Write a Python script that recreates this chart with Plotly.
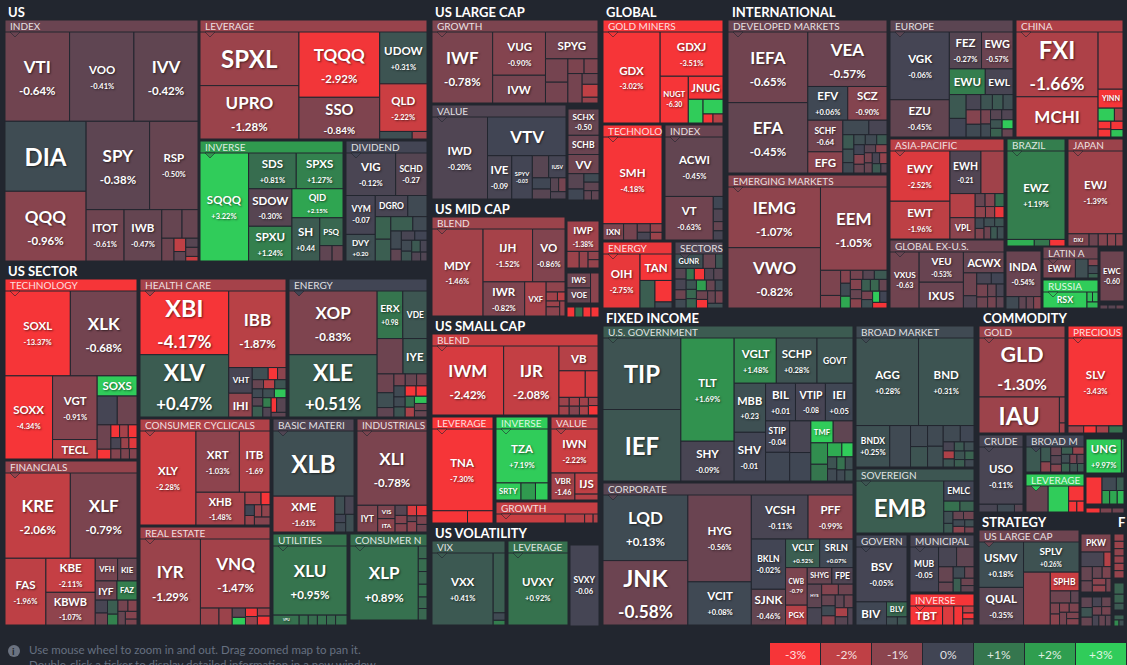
import plotly.graph_objects as go

W, H = 1127, 665
BG = "#22262f"
legend_labels = ["-3%", "-2%", "-1%", "0%", "+1%", "+2%", "+3%"]
legend_colors = ["#f63538", "#bf4045", "#8b444e", "#414554", "#35764e", "#2f9e4f", "#30cc5a"]
scale_values = [-3, -2, -1, 0, 1, 2, 3]

# ---- data: t_ = visible tickers ("" or missing = cell without a label), c_ = % change, a_ = size
t_index = ["VTI", "VOO", "IVV", "DIA", "QQQ", "SPY", "RSP", "ITOT", "IWB"]
c_index = [-0.64, -0.41, -0.42, 0.15, -0.96, -0.38, -0.50, -0.61, -0.47, -0.5, -0.5, -0.6, -2.0, -0.4, -0.3, -0.6, -2.2]
a_index = [518, 516, 514, 510, 508, 504, 384, 175, 174, 52, 41, 25, 14, 10, 10, 10, 5]
t_lev = ["SPXL", "UPRO", "TQQQ", "SSO", "UDOW", "QLD"]
c_lev = [-1.3, -1.28, -2.92, -0.84, 0.31, -2.22, 0.2, -1.4]
a_lev = [476, 474, 473, 302, 220, 202, 22, 10]
t_inv = ["SQQQ", "SDS", "SPXS", "SDOW", "SPXU", "QID", "SH", "PSQ"]
c_inv = [3.22, 0.81, 1.27, -0.30, 1.24, 2.15, 0.44, 0.7, -0.4, -0.5]
a_inv = [471, 153, 150, 146, 135, 133, 108, 58, 17, 15]
t_div = ["VIG", "SCHD", "VYM", "DVY", "DGRO"]
c_div = [-0.12, -0.27, -0.07, 0.20, -0.1, 0.1, 0.6, 0.5, 0.5, 0.1, 0.1, -0.4, -0.1, 0.0, 0.1, 0.3, 0.4, -0.1, -0.2, -0.2]
a_div = [187, 118, 101, 69, 61, 36, 31, 30, 28, 18, 17, 11, 11, 10, 10, 9, 9, 7, 7, 5]
t_tech = ["SOXL", "XLK", "SOXX", "VGT", "TECL", "SOXS"]
c_tech = [-13.37, -0.68, -4.34, -0.91, -2.0, 3.0, -0.05, -0.6, -0.6, -4, -3, -1.5, -3.2, -0.1, -0.9, -1.3, -2.6, -0.8, -0.9]
a_tech = [498, 508, 355, 255, 78, 72, 52, 51, 30, 12, 10, 10, 10, 10, 9, 8, 8, 8, 7]
t_fin = ["KRE", "XLF", "FAS", "KBE", "KBWB", "VFH", "KIE", "IYF", "FAZ"]
c_fin = [-2.06, -0.79, -1.96, -2.11, -1.07, -0.7, -0.5, -0.6, 1.2, -0.1, -0.6, 0.5, 1.3, -0.7, -0.9, -0.5, -0.9, -0.8]
a_fin = [494, 504, 242, 149, 143, 45, 39, 37, 34, 14, 13, 13, 10, 10, 9, 9, 8, 6]
t_hc = ["XBI", "XLV", "IBB", "VHT", "IHI"]
c_hc = [-4.17, 0.47, -1.87, -0.1, -1.1, 0.2, -3.5, -1.0, -0.5, -1.9, 0.3, 0.1, -0.3, 0.5, 0.2, 2.9, 1.2, -0.2, -4.0, -0.3, -0.4]
a_hc = [495, 484, 384, 53, 49, 17, 10, 9, 9, 9, 9, 8, 8, 10, 9, 9, 7, 7, 7, 12, 6]
t_en = ["XOP", "XLE", "ERX", "VDE", "", "IYE"]
c_en = [-0.83, 0.51, 0.98, 0.35, -0.6, 0.4, -0.6, 0.2, -0.4, -0.7, -0.5, -0.7, 0.1, 0.1, 0.3, -3.5, -3.5, 0.8, -1.6, 2.8, -0.6, -0.5]
a_en = [497, 486, 108, 102, 81, 75, 28, 22, 14, 12, 12, 11, 11, 10, 10, 10, 10, 9, 8, 8, 8, 7]
t_cc = ["XLY", "XRT", "ITB", "XHB"]
c_cc = [-2.28, -1.03, -1.69, -1.48, -1.5, -3.5, 0, -1.2, -1.2, -1.1, -0.9]
a_cc = [469, 237, 167, 143, 18, 10, 9, 8, 8, 9, 11]
t_re = ["IYR", "VNQ"]
c_re = [-1.29, -1.47, -1.3, -1.3, -0.4, 3, -3.5, -1.2, -1.4, -3.5]
a_re = [464, 429, 28, 20, 11, 9, 9, 9, 9, 10]
t_bm = ["XLB", "XME"]
c_bm = [0.2, -1.61, 0.2, -0.1, 0.0, 0.1, 0.2]
a_bm = [471, 198, 16, 15, 8, 9, 13]
t_ind = ["XLI", "IYT", "VIS", "ITA"]
c_ind = [-0.78, -0.8, -0.8, -1.0, -0.3, -0.9, -0.9, -2.5, -2.8, -0.5, -1.0, -0.8, -0.6]
a_ind = [470, 50, 21, 21, 11, 9, 9, 9, 10, 5, 9, 8, 7]
t_ut = ["XLU", "VPU"]
c_ut = [0.95, 0.9, 0.9, 0.8, 0.9, 0.8, 0.9]
a_ut = [455, 23, 8, 8, 8, 8, 10]
t_cn = ["XLP"]
c_cn = [0.89, 0.7, 0.8, 0.7, 0.9, 0.7, 0.7]
a_cn = [455, 10, 10, 10, 10, 9, 9]
t_gr = ["IWF", "VUG", "IVW", "SPYG"]
c_gr = [-0.78, -0.90, -0.7, -0.7, -0.7, -0.7, -0.8, -0.8, -0.7, -0.6, -2.0, -1.2]
a_gr = [379, 201, 129, 124, 46, 41, 21, 18, 37, 15, 18, 8]
t_val = ["IWD", "VTV", "IVE", "SPYV", "", "IUSV"]
c_val = [-0.20, 0.0, -0.09, -0.03, -0.3, -0.05, 0.05, -0.3, -0.3, -0.7, -0.2]
a_val = [403, 269, 93, 79, 32, 34, 18, 16, 10, 9, 10]
t_ls = ["SCHX", "SCHB", "VV"]
c_ls = [-0.50, -0.55, -0.6, -0.3, 0.05, 0.1, -0.4, -0.4, -0.4]
a_ls = [70, 51, 51, 21, 15, 11, 11, 6, 6]
t_mb = ["MDY", "IJH", "VO", "IWR", "VXF"]
c_mb = [-1.46, -1.52, -0.86, -0.82, -1.5, -1.1, -1.4, -1.9, -1.3, -1.0, -1.2]
a_mb = [394, 232, 152, 126, 65, 17, 9, 6, 7, 11, 7]
t_iwp = ["IWP"]
c_iwp = [-1.38, -1.3, -1.2, -1.1, -1.2]
a_iwp = [86, 18, 13, 8, 8]
t_iws = ["IWS", "VOE"]
c_iws = [-0.6, -0.5, -1.0]
a_iws = [32, 32, 23]
t_mred = []
c_mred = [-3.5, 0.8, -3.0, -3.5]
a_mred = [10, 10, 10, 10]
t_gold = ["GDX", "GDXJ", "NUGT", "JNUG"]
c_gold = [-3.02, -3.51, -6.30, -6.5, 3.2, 3.3, -3.5, -1.8]
a_gold = [462, 247, 117, 71, 31, 26, 8, 8]
t_gt = ["SMH", "IXN"]
c_gt = [-4.18, -0.8, -0.7, -0.6, -0.1, -1.2, -1.3]
a_gt = [460, 30, 20, 10, 9, 9, 8]
t_gi = ["ACWI", "VT"]
c_gi = [-0.45, -0.63, 0.05, -0.2, -0.5, -0.1]
a_gi = [310, 189, 11, 11, 8, 8]
t_ge = ["OIH", "TAN"]
c_ge = [-2.75, -4, 0.5, -4, 0.1]
a_ge = [175, 74, 36, 32, 9]
t_gs = ["GUNR"]
c_gs = [0.2, -0.5, 0.3, -0.3, -0.1, -0.6, 0.1, 1.0, -3.5, -0.2, -0.3, 0.3, 0.7, 0.6, 2.0, -0.5, 0.1, -0.6, -3.0, -0.5, -0.7, 0.2]
a_gs = [34, 15, 9, 10, 10, 9, 8, 8, 10, 9, 9, 8, 8, 8, 9, 8, 7, 8, 8, 8, 8, 6]
t_gov = ["TIP", "IEF", "TLT", "SHY", "VGLT", "SCHP", "GOVT", "MBB", "SHV", "BIL", "VTIP", "IEI", "STIP", "", "", "", "TMF"]
c_gov = [0.28, 0.35, 1.69, -0.09, 1.48, 0.28, 0.31, 0.23, -0.01, 0.01, -0.08, 0.05, -0.04, 0.05, -0.1, 0.05, 3.2, -0.4, 1.6, 1.0, 2.3, 3.1, 0.3, 0.1, 0.9, 0.2, 0.1, 0.3]
a_gov = [499, 499, 493, 190, 171, 165, 146, 138, 137, 101, 101, 93, 68, 62, 60, 54, 44, 39, 32, 25, 18, 14, 10, 10, 10, 9, 8, 8]
t_corp = ["LQD", "JNK", "HYG", "VCIT", "VCSH", "PFF", "BKLN", "SJNK", "VCLT", "SRLN", "CWB", "PGX", "SHYG", "FPE", "HYS"]
c_corp = [0.13, -0.58, -0.56, 0.08, -0.11, -0.99, -0.02, -0.46, 0.52, 0.07, -0.79, -1.8, -0.5, -0.2, -0.4, -0.1, -0.9, -0.6, -0.5, 0.1, -0.9, -0.4, -0.6, -1.6, -0.3, -0.2]
a_corp = [492, 483, 487, 242, 221, 175, 152, 108, 86, 84, 72, 38, 36, 31, 30, 22, 16, 14, 13, 12, 11, 10, 10, 10, 9, 8]
t_bm2 = ["AGG", "BND", "BNDX"]
c_bm2 = [0.28, 0.31, 0.25, 0.1, 0.1, 0.3, 0.1, 0.2, 0.1, 0.05, -0.1, -1.7, 0.3, 0.4, 0.2, 0.3, 0.5, 0.6, 0.1]
a_bm2 = [489, 434, 125, 77, 32, 31, 29, 29, 25, 20, 9, 8, 8, 8, 8, 8, 7, 7, 6]
t_sov = ["EMB", "EMLC"]
c_sov = [0.5, 0.0, 0.9, 0.6, 0.2, 0.4, -0.5, -0.6, 0.1, -1.0, 0.2, -0.7]
a_sov = [413, 55, 15, 13, 10, 8, 8, 8, 7, 7, 6, 5]
t_govn = ["BSV", "BIV", "BLV"]
c_govn = [-0.05, 0.05, 0.7, 0.2, 0.3]
a_govn = [254, 64, 28, 8, 7]
t_muni = ["MUB"]
c_muni = [-0.05, -0.1, -0.4, -0.5, -0.5, 0.1, -0.5, 0.5, -0.6, -0.4]
a_muni = [108, 30, 29, 19, 12, 11, 9, 9, 8, 7]
t_binv = ["TBT"]
c_binv = [-3.5, -2.5, -3.3, -2.0, -3.0, -1.5]
a_binv = [55, 19, 15, 7, 6, 6]
t_gld = ["GLD", "IAU"]
c_gld = [-1.30, -1.32, -1.2, -1.4]
a_gld = [454, 259, 13, 5]
t_prec = ["SLV"]
c_prec = [-3.43, -1.3, -3.5, -1.5, 0.9]
a_prec = [432, 10, 8, 8, 9]
t_cru = ["USO"]
c_cru = [-0.11, -0.1, 0.1, -0.3]
a_cru = [229, 13, 12, 6]
t_bmc = []
c_bmc = [0.4, 0.4, -1.0, -0.5, -0.3, -0.9, 0.5, -1.2, 0.2, 0.6, -0.7, -0.4, 0.3, 0.5]
a_bmc = [40, 16, 11, 10, 10, 9, 9, 9, 8, 8, 7, 7, 7, 6]
t_clev = []
c_clev = [-0.5, 3.0, -3.5, -3.0, -3.2]
a_clev = [52, 48, 21, 8, 7]
t_ung = ["UNG"]
c_ung = [9.97, 1.5]
a_ung = [108, 8]
t_c2 = []
c_c2 = [-3.5, 0.1, 0.5, 2.0, 2.2, 2.6]
a_c2 = [38, 17, 9, 9, 9, 8]
t_c3 = []
c_c3 = [-3.0, -0.8, -0.6]
a_c3 = [6, 5, 5]
t_slc = ["USMV", "QUAL", "SPLV", "", "SPHB"]
c_slc = [0.18, -0.35, 0.26, -1.0, -2.2, -0.6, -0.4, -0.8, -1.0, -0.9, -0.8, -0.7, -0.8, -0.9]
a_slc = [180, 149, 149, 126, 48, 22, 9, 9, 9, 8, 8, 8, 7, 7]
t_pkw = ["PKW"]
c_pkw = [-0.8, -0.1, -1.8, -0.5, -0.5, -0.5, -0.8, -1.0, -1.1, -0.7]
a_pkw = [47, 29, 9, 14, 11, 10, 9, 8, 8, 6]
t_pk2 = []
c_pk2 = [-0.4, 0.3, -0.5, -0.1, -0.5, -0.6, -0.7, -0.1, -0.5, -0.4]
a_pk2 = [12, 11, 10, 9, 9, 8, 8, 7, 7, 6]
t_f1 = []
c_f1 = [-1.2, -1.3, -1.1, -1.2, -1.3, -1.2]
a_f1 = [7, 7, 7, 7, 7, 7]
t_f2 = []
c_f2 = [0.6, 0.6, 0.4]
a_f2 = [10, 8, 6]
t_f3 = []
c_f3 = [0.5, 1.5, 0.2]
a_f3 = [5, 3, 3]
t_dev = ["IEFA", "EFA", "VEA", "EFV", "SCZ", "SCHF", "EFG"]
c_dev = [-0.65, -0.45, -0.57, 0.06, -0.90, -0.64, -1.0, 0.1, -0.1, 0.4, 0.2, 0.1, 0.2, 0.1, 0.4, 0.0, -0.9, -0.5, -0.3, -1.0, -0.7, -0.5, -0.1, -1.2, 0.4, -0.3]
a_dev = [494, 492, 378, 118, 116, 97, 65, 33, 23, 14, 13, 10, 10, 10, 9, 9, 9, 8, 8, 8, 7, 7, 7, 7, 7, 5]
t_em = ["IEMG", "VWO", "EEM"]
c_em = [-1.07, -0.82, -1.05, -0.8, -0.9, -0.9, 0.1, 2.2, -0.7, -0.3, 0.4, -0.9, -0.5, -1.0, 0.5, 0.7, -0.5, -0.7, 0.2, 3.0, 0.0, -3.5]
a_em = [488, 485, 482, 44, 22, 11, 11, 10, 10, 9, 10, 10, 9, 9, 9, 9, 8, 8, 8, 7, 7, 7]
t_eu = ["VGK", "EZU", "FEZ", "EWG", "EWU", "EWL"]
c_eu = [-0.06, -0.45, -0.27, -0.57, 1.2, -0.1, 0.4, 0.0, -0.1, -0.9, 0.1, 0.3, 0.4, 0.2, -0.7, 0.1, -0.3, -0.2, 0.3, 0.6, 3.0, -0.5]
a_eu = [322, 177, 95, 93, 74, 57, 32, 25, 18, 17, 15, 14, 13, 12, 11, 10, 9, 9, 8, 8, 8, 7]
t_cn2 = ["FXI", "MCHI", "", "YINN"]
c_cn2 = [-1.66, -1.9, -1.8, -3.5, 3.0, -1.4, -3.5, -3.5, -3.3, 2.8]
a_cn2 = [474, 294, 127, 42, 19, 10, 9, 9, 9, 8]
t_ap = ["EWY", "EWT", "EWH", "", "", "VPL"]
c_ap = [-2.52, -1.96, -0.21, -1.4, -1.8, -1.0, -0.5, -0.9, 0.8, -1.1, -1.2, -2.8, 0.1, -0.8, 0.2, 0.3, -0.6, 0.4, 0.2]
a_ap = [258, 194, 113, 84, 52, 46, 11, 11, 10, 10, 9, 9, 8, 8, 8, 7, 7, 7, 7]
t_gx = ["VXUS", "VEU", "IXUS", "ACWX"]
c_gx = [-0.63, -0.53, -0.55, -0.5, -0.6, -0.2, -0.1, 0.0, -0.7, -0.6, -0.5, -0.1, -0.7, -0.4]
a_gx = [150, 123, 105, 78, 28, 15, 15, 13, 13, 11, 10, 9, 9, 8]
t_bz = ["EWZ"]
c_bz = [1.19, 2.4, 1.0, -3.0]
a_bz = [459, 16, 9, 9]
t_jp = ["EWJ", "DXJ"]
c_jp = [-1.39, -0.8, -0.6, -0.9, -1.0, -1.0]
a_jp = [408, 23, 10, 10, 9, 8]
t_inda = ["INDA"]
c_inda = [-0.54, 0.1, -0.4, -0.5, -0.9]
a_inda = [140, 14, 8, 8, 8]
t_lat = ["EWW"]
c_lat = [-0.7, 0.2, -0.9, 0.1, 0.6]
a_lat = [56, 22, 6, 7, 4]
t_rus = ["RSX"]
c_rus = [3.1, 2.7, 2.7, 2.6]
a_rus = [64, 5, 5, 6]
t_ewc = ["EWC"]
c_ewc = [-0.60]
a_ewc = [109]
t_ew2 = []
c_ew2 = [-0.4, -0.3, -0.5]
a_ew2 = [5, 5, 5]
t_vix = ["VXX"]
c_vix = [0.41, 0.5, 0.1, 1.2]
a_vix = [399, 64, 8, 5]
t_vlv = ["UVXY"]
c_vlv = [0.92]
a_vlv = [391]
t_svxy = ["SVXY"]
c_svxy = [-0.06]
a_svxy = [150]
t_sb = ["IWM", "IJR", "VB"]
c_sb = [-2.42, -2.08, -1.8, -2.4, -2.3, -1.3, -1.4, -1.5, -0.9, -1.4, -1.6, -1.5, -3.3]
a_sb = [439, 339, 86, 62, 30, 8, 8, 8, 8, 7, 7, 7, 8]
t_sl = ["TNA"]
c_sl = [-7.30, -3.5, -3.5]
a_sl = [448, 39, 28]
t_si = ["TZA", "SRTY"]
c_si = [7.19, 3.0, 1.9, 3.1]
a_si = [250, 38, 22, 19]
t_sv = ["IWN", "VBR", "IJS"]
c_sv = [-2.22, -1.46, -2.0, -1.8]
a_sv = [183, 57, 43, 12]
t_sg = []
c_sg = [-2.2, -1.8, -1.9, -1.7]
a_sg = [57, 16, 7, 4]

# ---- style and layout, kept apart from the data above
LABEL_PX = {
    "VTI": 17, "VOO": 11.5, "IVV": 17, "DIA": 24, "QQQ": 17, "SPY": 17, "RSP": 11.5, "ITOT": 11.5, "IWB": 11.5,
    "SPXL": 24, "UPRO": 17, "TQQQ": 17, "SSO": 17, "UDOW": 11.5, "QLD": 11.5,
    "SQQQ": 11.5, "SPXS": 11.5, "SDS": 11.5, "SDOW": 11.5, "QID": 11.5, "SPXU": 11.5, "SH": 11.5, "PSQ": 8,
    "VIG": 11.5, "SCHD": 8.5, "VYM": 8.5, "DVY": 10, "DGRO": 8.5,
    "SOXL": 11.5, "XLK": 17, "SOXX": 11.5, "VGT": 11.5, "TECL": 11.5, "SOXS": 11.5,
    "KRE": 17, "XLF": 17, "FAS": 11.5, "KBE": 11.5, "KBWB": 11.5, "VFH": 8, "KIE": 8, "IYF": 11.5, "FAZ": 8.5,
    "XBI": 24, "XLV": 24, "IBB": 17, "VHT": 8.5, "IHI": 11.5,
    "XOP": 17, "XLE": 24, "ERX": 11.5, "VDE": 8.5, "IYE": 11.5,
    "XLY": 11.5, "XRT": 11.5, "ITB": 11.5, "XHB": 11.5, "IYR": 17, "VNQ": 17,
    "XLB": 24, "XME": 11.5, "XLI": 17, "IYT": 8.5, "VIS": 8.5, "ITA": 8.5, "XLU": 17, "VPU": 8.5, "XLP": 17,
    "IWF": 17, "VUG": 11.5, "IVW": 11.5, "SPYG": 11.5, "IWD": 11.5, "VTV": 17, "IVE": 11.5, "SPYV": 8.5, "IUSV": 8.5,
    "SCHX": 8.5, "SCHB": 8.5, "VV": 11.5, "MDY": 11.5, "IJH": 11.5, "VO": 11.5, "IWR": 11.5, "VXF": 8.5, "IWP": 11.5,
    "IWS": 8.5, "VOE": 8.5, "GDX": 11.5, "GDXJ": 11.5, "NUGT": 8.5, "JNUG": 11.5, "SMH": 11.5, "IXN": 8.5,
    "ACWI": 11.5, "VT": 11.5, "OIH": 11.5, "TAN": 11.5, "GUNR": 8.5,
    "TIP": 24, "IEF": 24, "TLT": 11.5, "SHY": 11.5, "VGLT": 11.5, "SCHP": 11.5, "GOVT": 8.5, "MBB": 11.5, "SHV": 11.5,
    "BIL": 11.5, "VTIP": 11.5, "IEI": 11.5, "STIP": 8.5, "TMF": 8.5,
    "LQD": 17, "JNK": 24, "HYG": 11.5, "VCIT": 11.5, "VCSH": 11.5, "PFF": 11.5, "BKLN": 8.5, "SJNK": 11.5, "VCLT": 11.5,
    "SRLN": 11.5, "CWB": 8.5, "SHYG": 8.5, "PGX": 11.5, "FPE": 8.5, "HYS": 8.5,
    "AGG": 11.5, "BND": 11.5, "BNDX": 8.5, "EMB": 24, "EMLC": 8.5, "BSV": 11.5, "BIV": 11.5, "BLV": 8.5, "MUB": 8.5, "TBT": 11.5,
    "GLD": 24, "IAU": 24, "SLV": 11.5, "USO": 11.5, "UNG": 11.5,
    "USMV": 11.5, "QUAL": 11.5, "SPLV": 11.5, "SPHB": 8.5, "PKW": 8.5,
    "EFA": 17, "IEFA": 17, "VEA": 17, "EFV": 11.5, "SCZ": 11.5, "SCHF": 8.5, "EFG": 11.5,
    "IEMG": 17, "VWO": 17, "EEM": 17, "VGK": 11.5, "EZU": 11.5, "EWG": 11.5, "FEZ": 11.5, "EWU": 11.5, "EWL": 11.5,
    "FXI": 24, "MCHI": 17, "YINN": 8.5, "EWY": 11.5, "EWT": 11.5, "EWH": 11.5, "VPL": 8.5,
    "VXUS": 8.5, "VEU": 11.5, "IXUS": 11.5, "ACWX": 11.5, "EWZ": 11.5, "EWJ": 11.5, "DXJ": 8.5,
    "INDA": 11.5, "EWW": 8.5, "RSX": 11.5, "EWC": 8.5, "VXX": 11.5, "UVXY": 11.5, "SVXY": 8.5,
    "IWM": 17, "IJR": 17, "VB": 11.5, "TNA": 11.5, "TZA": 11.5, "SRTY": 8.5, "IWN": 11.5, "VBR": 8.5, "IJS": 11.5,
}
NO_PCT = {"DIA", "SPXL", "DGRO", "PSQ", "VDE", "IYE", "VHT", "IHI", "IVW", "SPYG", "VTV", "SCHB", "VV", "IXN",
          "TAN", "GUNR", "TIP", "IEF", "GOVT", "EMB", "EMLC", "BIV", "BLV", "IAU", "SPHB", "PKW", "EFG", "EWU", "EWL",
          "MCHI", "YINN", "VPL", "IXUS", "ACWX", "DXJ", "EWW", "RSX", "VB", "SRTY", "IJS", "TECL", "SOXS",
          "VFH", "KIE", "IYF", "FAZ", "IYT", "VIS", "ITA", "VPU", "XLB", "IUSV", "VOE", "IWS", "TMF", "SHYG", "PGX",
          "FPE", "HYS", "TBT", "JNUG", "VXF"}
NO_SIGN = {"ITB", "SCHX", "NUGT", "ERX", "EWH", "SH", "VYM", "DVY", "SCHD", "MBB", "SHV", "BIL", "VTIP", "IEI", "STIP",
           "CWB", "MUB", "SCHF", "VXUS", "EWC", "SVXY", "VBR", "SPYV", "IVE"}

# name, change used for the header colour, tickers, changes, sizes, x0, y0, x1, y1
BLOCKS = [
    ("INDEX", -0.55, t_index, c_index, a_index, 5, 20, 198, 261),
    ("LEVERAGE", -1.25, t_lev, c_lev, a_lev, 200, 20, 427, 139),
    ("INVERSE", 1.9, t_inv, c_inv, a_inv, 200, 141, 343, 261),
    ("DIVIDEND", -0.03, t_div, c_div, a_div, 346, 141, 427, 261),
    ("TECHNOLOGY", -3.5, t_tech, c_tech, a_tech, 5, 279, 137, 459),
    ("FINANCIALS", -1.2, t_fin, c_fin, a_fin, 5, 461, 137, 625),
    ("HEALTH CARE", -1.5, t_hc, c_hc, a_hc, 140, 279, 286, 417),
    ("ENERGY", 0.0, t_en, c_en, a_en, 289, 279, 427, 417),
    ("CONSUMER CYCLICALS", -1.7, t_cc, c_cc, a_cc, 140, 419, 270, 525),
    ("REAL ESTATE", -1.4, t_re, c_re, a_re, 140, 527, 270, 625),
    ("BASIC MATERI", -0.2, t_bm, c_bm, a_bm, 273, 419, 354, 532),
    ("INDUSTRIALS", -0.8, t_ind, c_ind, a_ind, 357, 419, 427, 532),
    ("UTILITIES", 0.95, t_ut, c_ut, a_ut, 273, 534, 347, 625),
    ("CONSUMER N", 0.85, t_cn, c_cn, a_cn, 350, 534, 427, 620),
    ("GROWTH", -0.8, t_gr, c_gr, a_gr, 432, 20, 598, 103),
    ("VALUE", -0.2, t_val, c_val, a_val, 432, 105, 566, 199),
    ("", 0, t_ls, c_ls, a_ls, 568, 109, 599, 200),
    ("BLEND", -1.3, t_mb, c_mb, a_mb, 432, 217, 565, 316),
    ("", 0, t_iwp, c_iwp, a_iwp, 567, 221, 599, 268),
    ("", 0, t_iws, c_iws, a_iws, 567, 273, 599, 303),
    ("", 0, t_mred, c_mred, a_mred, 567, 307, 599, 317),
    ("GOLD MINERS", -3.5, t_gold, c_gold, a_gold, 603, 20, 723, 123),
    ("TECHNOLO", -3.5, t_gt, c_gt, a_gt, 603, 125, 662, 240),
    ("INDEX", -0.55, t_gi, c_gi, a_gi, 665, 125, 723, 240),
    ("ENERGY", -2.8, t_ge, c_ge, a_ge, 603, 242, 672, 308),
    ("SECTORS", -0.2, t_gs, c_gs, a_gs, 675, 242, 723, 308),
    ("U.S. GOVERNMENT", 0.45, t_gov, c_gov, a_gov, 603, 326, 853, 481),
    ("CORPORATE", -0.3, t_corp, c_corp, a_corp, 603, 483, 853, 625),
    ("BROAD MARKET", 0.1, t_bm2, c_bm2, a_bm2, 856, 326, 974, 467),
    ("SOVEREIGN", 0.35, t_sov, c_sov, a_sov, 856, 469, 974, 533),
    ("GOVERN", -0.02, t_govn, c_govn, a_govn, 856, 535, 907, 625),
    ("MUNICIPAL", -0.1, t_muni, c_muni, a_muni, 910, 535, 974, 592),
    ("INVERSE", -3.5, t_binv, c_binv, a_binv, 910, 594, 974, 625),
    ("GOLD", -1.3, t_gld, c_gld, a_gld, 979, 326, 1065, 433),
    ("PRECIOUS", -3.5, t_prec, c_prec, a_prec, 1068, 326, 1123, 433),
    ("CRUDE", -0.1, t_cru, c_cru, a_cru, 979, 435, 1023, 512),
    ("BROAD M", 0.0, t_bmc, c_bmc, a_bmc, 1026, 435, 1084, 472),
    ("LEVERAGE", 3.0, t_clev, c_clev, a_clev, 1026, 474, 1084, 512),
    ("", 0, t_ung, c_ung, a_ung, 1086, 439, 1124, 473),
    ("", 0, t_c2, c_c2, a_c2, 1086, 477, 1124, 504),
    ("", 0, t_c3, c_c3, a_c3, 1086, 508, 1124, 513),
    ("US LARGE CAP", -0.6, t_slc, c_slc, a_slc, 979, 530, 1079, 625),
    ("", 0, t_pkw, c_pkw, a_pkw, 1081, 534, 1111, 592),
    ("", 0, t_pk2, c_pk2, a_pk2, 1081, 597, 1111, 626),
    ("", 0, t_f1, c_f1, a_f1, 1114, 534, 1124, 578),
    ("", 0, t_f2, c_f2, a_f2, 1114, 583, 1124, 610),
    ("", 0, t_f3, c_f3, a_f3, 1114, 615, 1124, 626),
    ("DEVELOPED MARKETS", -0.55, t_dev, c_dev, a_dev, 728, 20, 887, 173),
    ("EMERGING MARKETS", -0.95, t_em, c_em, a_em, 728, 175, 887, 308),
    ("EUROPE", -0.35, t_eu, c_eu, a_eu, 890, 20, 1013, 137),
    ("CHINA", -1.7, t_cn2, c_cn2, a_cn2, 1016, 20, 1123, 137),
    ("ASIA-PACIFIC", -1.9, t_ap, c_ap, a_ap, 890, 139, 1004, 239),
    ("BRAZIL", 1.2, t_bz, c_bz, a_bz, 1007, 139, 1065, 246),
    ("JAPAN", -1.3, t_jp, c_jp, a_jp, 1068, 139, 1123, 246),
    ("GLOBAL EX-U.S.", -0.55, t_gx, c_gx, a_gx, 890, 240, 1004, 308),
    ("", 0, t_inda, c_inda, a_inda, 1006, 251, 1041, 309),
    ("LATIN A", -0.6, t_lat, c_lat, a_lat, 1043, 247, 1098, 278),
    ("RUSSIA", 3.0, t_rus, c_rus, a_rus, 1043, 280, 1098, 308),
    ("", 0, t_ewc, c_ewc, a_ewc, 1100, 251, 1124, 301),
    ("", 0, t_ew2, c_ew2, a_ew2, 1100, 305, 1124, 309),
    ("VIX", 0.45, t_vix, c_vix, a_vix, 432, 541, 505, 625),
    ("LEVERAGE", 0.9, t_vlv, c_vlv, a_vlv, 508, 541, 568, 625),
    ("", 0, t_svxy, c_svxy, a_svxy, 570, 545, 599, 626),
    ("BLEND", -2.2, t_sb, c_sb, a_sb, 432, 334, 598, 415),
    ("LEVERAGE", -3.5, t_sl, c_sl, a_sl, 432, 417, 493, 523),
    ("INVERSE", 3.0, t_si, c_si, a_si, 496, 417, 548, 500),
    ("VALUE", -1.9, t_sv, c_sv, a_sv, 551, 417, 598, 500),
    ("GROWTH", -2.1, t_sg, c_sg, a_sg, 496, 502, 598, 523),
]
TITLES = [("US", 6, 12), ("US SECTOR", 6, 271), ("US LARGE CAP", 433, 12), ("US MID CAP", 433, 209),
          ("US SMALL CAP", 433, 326), ("US VOLATILITY", 433, 533), ("GLOBAL", 604, 12), ("INTERNATIONAL", 730, 12),
          ("FIXED INCOME", 604, 318), ("COMMODITY", 981, 318), ("STRATEGY", 980, 522), ("F", 1116, 522)]
HEAD = 12
PCT_PX = {24: 17.5, 17: 11.5}


def fx(x):
    return x / W


def fy(y):
    return 1 - y / H


def shade(v):
    v = max(-3, min(3, v))
    i = min(5, int(v + 3))
    f = v + 3 - i
    a, b = legend_colors[i], legend_colors[i + 1]
    rgb = [round(int(a[k:k + 2], 16) * (1 - f) + int(b[k:k + 2], 16) * f) for k in (1, 3, 5)]
    return f"rgb({rgb[0]},{rgb[1]},{rgb[2]})"


colorscale = [[(v + 3) / 6, c] for v, c in zip(scale_values, legend_colors)]
SHADOW = "1px 1px 2px rgba(0,0,0,0.55)"


def cell_text(t, c):
    if not t:
        return " "
    if t in NO_PCT:
        return t
    small = PCT_PX.get(LABEL_PX.get(t, 11.5), 7.5)
    if t in NO_SIGN:
        s = f"{c:+.2f}"
    else:
        s = f"{c:+.2f}%"
    return f"{t}<br><span style='font-size:{small}px'>{s}</span>"


fig = go.Figure()
shapes, annotations = [], []
for n, (name, hc, tick, chg, area, x0, y0, x1, y1) in enumerate(BLOCKS):
    names = list(tick) + [""] * (len(area) - len(tick))
    ids = [f"b{n}"] + [f"b{n}c{i}" for i in range(len(area))]
    fig.add_trace(go.Treemap(
        ids=ids,
        labels=[" "] + [t or " " for t in names],
        parents=[""] + [f"b{n}"] * len(area),
        values=[0] + list(area),
        branchvalues="remainder",
        sort=False,
        text=[" "] + [cell_text(t, c) for t, c in zip(names, chg)],
        textinfo="text",
        textposition="middle center",
        textfont=dict(family="Lato", color="white", shadow=SHADOW, weight=700,
                      size=[10] + [LABEL_PX.get(t, 8.5) for t in names]),
        hoverinfo="skip",
        domain=dict(x=[fx(x0), fx(x1)], y=[fy(y1), fy(y0)]),
        tiling=dict(packing="squarify", squarifyratio=1, pad=0),
        pathbar=dict(visible=False),
        marker=dict(colors=[hc] + list(chg), colorscale=colorscale, cmin=-3, cmax=3, showscale=False,
                    line=dict(color=BG, width=1), depthfade=False,
                    pad=dict(t=HEAD if name else 0, l=0, r=0, b=0)),
        root=dict(color=BG),
    ))
    if name:
        annotations.append(dict(x=fx(x0 + 3), y=fy(y0 + 6), text=name, showarrow=False, xanchor="left",
                                yanchor="middle", xref="paper", yref="paper",
                                font=dict(family="Lato", size=10, color="rgba(255,255,255,0.85)")))
        shapes.append(dict(type="path", xref="paper", yref="paper", layer="above",
                           path=f"M {fx(x0 + 5)} {fy(y0 + HEAD)} L {fx(x0 + 15)} {fy(y0 + HEAD)} L {fx(x0 + 10)} {fy(y0 + HEAD + 5)} Z",
                           fillcolor=shade(hc), line=dict(color=BG, width=0.6)))

for label, x, y in TITLES:
    annotations.append(dict(x=fx(x), y=fy(y), text=label, showarrow=False, xanchor="left", yanchor="middle",
                            xref="paper", yref="paper",
                            font=dict(family="Lato", size=13, weight=700, color="white")))

for i, (lab, col) in enumerate(zip(legend_labels, legend_colors)):
    lx = 770 + 51 * i
    shapes.append(dict(type="rect", xref="paper", yref="paper", x0=fx(lx), x1=fx(lx + 50), y0=fy(665), y1=fy(643),
                       fillcolor=col, line=dict(width=0)))
    annotations.append(dict(x=fx(lx + 25), y=fy(654), text=lab, showarrow=False, xref="paper", yref="paper",
                            xanchor="center", yanchor="middle",
                            font=dict(family="Lato", size=12, color="rgba(255,255,255,0.85)")))

shapes.append(dict(type="circle", xref="paper", yref="paper", x0=fx(8), x1=fx(20), y0=fy(657), y1=fy(645),
                   fillcolor="#6b7280", line=dict(width=0)))
annotations.append(dict(x=fx(14), y=fy(651), text="<b>i</b>", showarrow=False, xref="paper", yref="paper",
                        xanchor="center", yanchor="middle",
                        font=dict(family="Lato", size=10, color=BG)))
annotations.append(dict(x=fx(27), y=fy(641), xanchor="left", yanchor="top", align="left", showarrow=False,
                        xref="paper", yref="paper",
                        text="Use mouse wheel to zoom in and out. Drag zoomed map to pan it.<br>Double-click a ticker to display detailed information in a new window.",
                        font=dict(family="Lato", size=11.5, color="#667080")))

fig.update_layout(width=W, height=H, margin=dict(l=0, r=0, t=0, b=0), paper_bgcolor=BG, plot_bgcolor=BG,
                  font=dict(family="Lato"), shapes=shapes, annotations=annotations, showlegend=False)
fig.write_html("out.html", config={"displayModeBar": False},
               post_script="document.body.style.margin='0';document.body.style.background='#22262f';document.body.style.overflow='hidden';")
